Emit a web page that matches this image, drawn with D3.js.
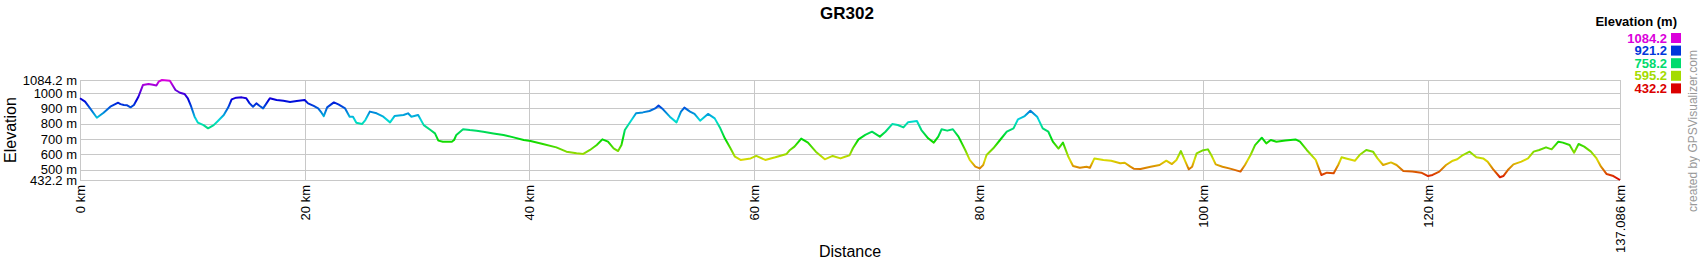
<!DOCTYPE html>
<html>
<head>
<meta charset="utf-8">
<script src="https://cdn.jsdelivr.net/npm/d3@7"></script>
<style>
  html, body { margin: 0; padding: 0; background: #fff; }
  svg { display: block; font-family: "Liberation Sans", Arial, sans-serif; }
</style>
</head>
<body>
<svg id="chart" width="1700" height="260"></svg>
<script>
const distances = [0,0.45,0.9,1.5,2.1,2.7,3.4,3.6,3.9,4.2,4.5,4.8,5.2,5.6,6.1,6.5,6.8,7.0,7.3,8.0,8.5,8.9,9.3,9.6,9.9,10.2,10.5,11.0,11.4,11.9,12.3,12.8,13.2,13.5,13.9,14.4,14.8,15.1,15.4,15.7,16.0,16.3,16.6,16.9,17.5,18.1,18.7,19.3,20.0,20.3,20.8,21.2,21.5,21.7,22.0,22.6,23.0,23.6,24.0,24.3,24.6,25.1,25.4,25.8,26.4,27.0,27.6,28.0,28.8,29.2,29.5,30.1,30.6,31.2,31.6,31.9,32.3,33.1,33.3,33.5,34.1,34.7,35.3,35.9,36.8,37.7,38.6,39.5,40.1,41.2,42.4,43.3,44.2,44.8,45.4,46.0,46.5,47.0,47.5,47.9,48.2,48.5,48.9,49.5,50.1,50.7,51.2,51.5,51.9,52.5,53.1,53.5,53.8,54.3,54.7,55.2,55.9,56.5,57.0,57.4,57.9,58.3,58.8,59.7,60.2,61.0,61.9,62.9,63.2,63.6,64.2,64.8,65.5,66.3,67.0,67.7,68.1,68.5,68.8,69.3,69.9,70.5,71.2,71.7,72.3,72.8,73.3,73.7,74.5,74.9,75.5,76.0,76.4,76.7,77.2,77.7,78.2,78.8,79.2,79.7,80.1,80.4,80.7,81.3,81.9,82.5,83.1,83.5,84.1,84.6,85.2,85.7,86.2,86.6,87.1,87.5,88.0,88.4,89.0,89.6,89.9,90.3,91.1,91.8,92.6,93.0,93.5,93.8,94.4,95.3,96.1,96.7,97.2,97.6,98.0,98.4,98.7,99.0,99.4,99.9,100.4,100.7,101.1,101.7,102.3,102.7,103.3,103.7,104.2,104.6,105.2,105.6,106.0,106.5,107.3,108.2,108.6,109.2,110.0,110.5,111.0,111.6,112.0,112.3,112.7,113.5,113.9,114.5,115.1,115.5,116.0,116.7,117.2,117.8,118.6,119.4,120.0,120.4,121.0,121.6,122.2,122.6,123.1,123.7,124.3,124.9,125.3,125.8,126.4,126.7,127.1,127.6,128.3,128.9,129.4,129.9,130.5,131.0,131.6,132.0,132.6,133.0,133.4,133.9,134.5,135.0,135.4,135.9,136.5,137.086];
const elevations = [965,943,899,838,871,910,936,927,921,919,906,921,975,1051,1058,1053,1049,1073,1084.2,1080,1019,1001,993,965,910,845,806,790,769,790,819,856,906,958,969,971,965,932,910,932,915,899,932,965,954,949,941,947,954,932,915,899,871,849,906,938,925,899,845,845,806,797,823,878,867,845,808,849,856,867,845,856,790,758,736,689,682,682,693,726,763,758,754,747,736,726,710,693,686,667,645,617,606,602,628,660,697,682,639,621,660,758,802,867,873,882,899,917,893,845,808,878,904,878,863,819,863,834,769,704,639,584,563,573,589,563,580,602,628,650,702,676,617,567,589,573,584,593,639,697,726,747,715,747,797,791,775,808,817,758,704,676,715,763,754,763,715,628,563,519,508,530,595,639,693,747,769,828,849,884,845,769,747,682,637,676,580,523,512,519,512,573,563,558,541,545,519,506,504,519,530,558,536,563,621,552,502,519,606,624,632,595,534,519,508,500,487,530,595,660,708,671,693,682,689,697,682,628,563,465,480,476,530,580,573,558,595,628,617,573,530,547,530,491,487,480,458,465,487,530,558,567,595,617,580,573,552,502,450,458,497,534,552,573,617,628,645,632,682,676,660,610,667,650,617,573,519,471,458,432.2];

const yTickValues = [432.2, 500, 600, 700, 800, 900, 1000, 1084.2];
const yTickLabels = ["432.2 m", "500 m", "600 m", "700 m", "800 m", "900 m", "1000 m", "1084.2 m"];
const xTickValues = [0, 20, 40, 60, 80, 100, 120, 137.086];
const xTickLabels = ["0 km", "20 km", "40 km", "60 km", "80 km", "100 km", "120 km", "137.086 km"];
const legendValues = [1084.2, 921.2, 758.2, 595.2, 432.2];
const legendLabels = ["1084.2", "921.2", "758.2", "595.2", "432.2"];

const minE = 432.2, maxE = 1084.2, totalKm = 137.086;
const plot = { left: 80, right: 1620, top: 80, bottom: 180 };

const svg = d3.select("#chart");
const x = d3.scaleLinear().domain([0, totalKm]).range([plot.left, plot.right]);
const y = d3.scaleLinear().domain([minE, maxE]).range([plot.bottom, plot.top]);
const colorOf = v => d3.hsl(300 * (v - minE) / (maxE - minE), 1, 0.43).toString();

// grid
const grid = svg.append("g");
grid.selectAll("line.h").data(yTickValues).join("line")
  .attr("x1", plot.left).attr("x2", plot.right)
  .attr("y1", d => Math.round(y(d)) + 0.5).attr("y2", d => Math.round(y(d)) + 0.5)
  .attr("stroke", "#c8c8c8").attr("stroke-width", 1);
grid.selectAll("line.v").data(xTickValues).join("line")
  .attr("y1", plot.top).attr("y2", plot.bottom)
  .attr("x1", d => Math.round(x(d)) + 0.5).attr("x2", d => Math.round(x(d)) + 0.5)
  .attr("stroke", "#c8c8c8").attr("stroke-width", 1);

// y axis labels
const yAxis = d3.axisLeft(y).tickValues(yTickValues).tickSize(0).tickPadding(3)
  .tickFormat((d, i) => yTickLabels[i]);
const gy = svg.append("g").attr("transform", `translate(${plot.left},0)`).call(yAxis);
gy.select(".domain").remove();
gy.selectAll("text").attr("font-size", 13).attr("fill", "#000")
  .attr("font-family", "Liberation Sans, Arial, sans-serif");

// x axis labels (rotated)
const xAxis = d3.axisBottom(x).tickValues(xTickValues).tickSize(0).tickPadding(0)
  .tickFormat((d, i) => xTickLabels[i]);
const gx = svg.append("g").attr("transform", `translate(0,${plot.bottom})`).call(xAxis);
gx.select(".domain").remove();
gx.selectAll("text")
  .attr("font-size", 13).attr("fill", "#000")
  .attr("font-family", "Liberation Sans, Arial, sans-serif")
  .attr("text-anchor", "end")
  .attr("transform", "rotate(-90)")
  .attr("x", -5).attr("y", 0).attr("dy", "0.35em");

// gradient
const defs = svg.append("defs");
const grad = defs.append("linearGradient").attr("id", "elevGrad")
  .attr("gradientUnits", "userSpaceOnUse")
  .attr("x1", 0).attr("x2", 0).attr("y1", y(minE)).attr("y2", y(maxE));
d3.range(0, 21).forEach(i => {
  const t = i / 20;
  grad.append("stop").attr("offset", t).attr("stop-color", colorOf(minE + t * (maxE - minE)));
});

// profile line
const pts = distances.map((d, i) => [d, elevations[i]]);
svg.append("path").datum(pts)
  .attr("d", d3.line().x(d => x(d[0])).y(d => y(d[1])))
  .attr("fill", "none").attr("stroke", "url(#elevGrad)")
  .attr("stroke-width", 2).attr("stroke-linejoin", "round");

// title
svg.append("text").attr("x", 847).attr("y", 19).attr("text-anchor", "middle")
  .attr("font-size", 17).attr("font-weight", "bold").text("GR302");

// axis titles
svg.append("text").attr("transform", `translate(16,${(plot.top + plot.bottom) / 2}) rotate(-90)`)
  .attr("text-anchor", "middle").attr("font-size", 16).text("Elevation");
svg.append("text").attr("x", 850).attr("y", 257).attr("text-anchor", "middle")
  .attr("font-size", 16).text("Distance");

// legend
svg.append("text").attr("x", 1677).attr("y", 26).attr("text-anchor", "end")
  .attr("font-size", 13).attr("font-weight", "bold").text("Elevation (m)");
const lg = svg.append("g");
legendValues.forEach((v, i) => {
  const cy = 38 + i * 12.6;
  lg.append("text").attr("x", 1667).attr("y", cy).attr("dy", "0.35em")
    .attr("text-anchor", "end").attr("font-size", 13).attr("font-weight", "bold")
    .attr("fill", colorOf(v)).text(legendLabels[i]);
  lg.append("rect").attr("x", 1671).attr("y", cy - 5).attr("width", 10).attr("height", 10)
    .attr("fill", colorOf(v));
});

// credit
svg.append("text").attr("transform", "translate(1693,131) rotate(-90)")
  .attr("text-anchor", "middle").attr("dy", "0.35em").attr("font-size", 12)
  .attr("fill", "#999").text("created by GPSVisualizer.com");
</script>
</body>
</html>
